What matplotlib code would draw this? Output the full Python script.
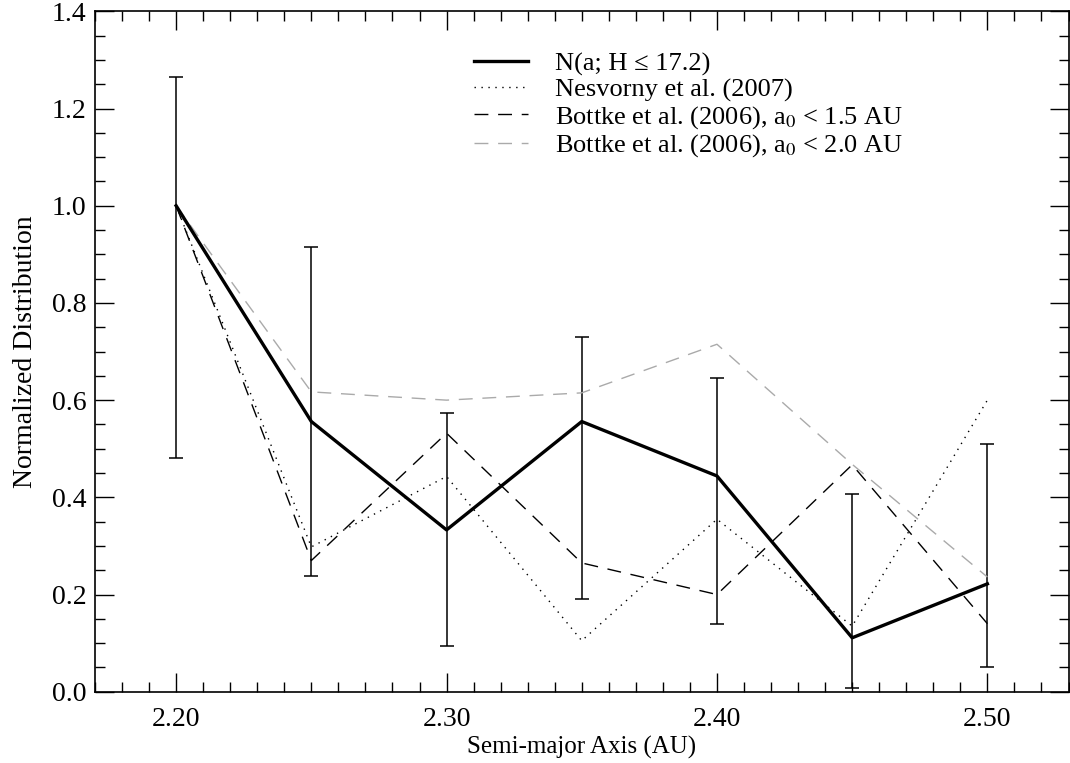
import matplotlib
matplotlib.use("Agg")
import matplotlib.pyplot as plt
from matplotlib.ticker import MultipleLocator

plt.rcParams['font.family'] = ['Liberation Serif', 'DejaVu Serif']
plt.rcParams['mathtext.fontset'] = 'stix'

# semieix major (AU)
a = [2.20, 2.25, 2.30, 2.35, 2.40, 2.45, 2.50]
# distribucio observada N(a; H <= 17.2) i les barres d'error
n_obs = [1.0, 0.556, 0.333, 0.556, 0.444, 0.111, 0.222]
err_hi = [1.265, 0.915, 0.574, 0.73, 0.645, 0.407, 0.51]
err_lo = [0.48, 0.239, 0.095, 0.19, 0.14, 0.008, 0.05]
# models
nesvorny = [1.0, 0.298, 0.443, 0.105, 0.355, 0.135, 0.60]
bottke15 = [1.0, 0.27, 0.532, 0.265, 0.20, 0.467, 0.14]
bottke20 = [1.0, 0.617, 0.600, 0.615, 0.715, 0.468, 0.236]

labels = ["N(a; H \u2264 17.2)", "Nesvorny et al. (2007)",
          r"Bottke et al. (2006), a$_0$ < 1.5 AU",
          r"Bottke et al. (2006), a$_0$ < 2.0 AU"]

fig = plt.figure(figsize=(10.7, 7.63), dpi=100)
ax = fig.add_axes([0.0888, 0.0934, 0.9098, 0.8917])

yerr = [[n - l for n, l in zip(n_obs, err_lo)], [h - n for n, h in zip(n_obs, err_hi)]]
ax.errorbar(a, n_obs, yerr=yerr, fmt='none', ecolor='black', elinewidth=1.1,
            capsize=5, capthick=1.1, zorder=2)

ax.plot(a, n_obs, color='black', lw=2.4, label=labels[0], zorder=4)
ax.plot(a, nesvorny, color='black', lw=1.0, ls=(0, (1, 4)), label=labels[1], zorder=3)
ax.plot(a, bottke15, color='black', lw=1.0, ls=(0, (10, 7)), label=labels[2], zorder=3)
ax.plot(a, bottke20, color='#aaaaaa', lw=1.0, ls=(0, (10, 7)), label=labels[3], zorder=3)

ax.set_xlim(2.17, 2.53)
ax.set_ylim(0.0, 1.4)
ax.set_xticks([2.20, 2.30, 2.40, 2.50])
ax.set_xticklabels(["2.20", "2.30", "2.40", "2.50"])
ax.xaxis.set_minor_locator(MultipleLocator(0.01))
ax.yaxis.set_major_locator(MultipleLocator(0.2))
ax.yaxis.set_minor_locator(MultipleLocator(0.05))
ax.yaxis.set_major_formatter(plt.FormatStrFormatter('%.1f'))

ax.tick_params(which='both', direction='in', top=True, right=True, width=1.0)
ax.tick_params(which='major', length=14, labelsize=20)
ax.tick_params(which='minor', length=7)
ax.tick_params(axis='x', pad=11)
ax.tick_params(axis='y', pad=6)
for s in ax.spines.values():
    s.set_linewidth(1.2)

ax.set_xlabel("Semi-major Axis (AU)", fontsize=18, labelpad=3)
ax.set_ylabel("Normalized Distribution", fontsize=20, labelpad=10)

ax.legend(loc='upper left', bbox_to_anchor=(0.389, 0.94), frameon=False,
          fontsize=19, handlelength=2.05, handletextpad=1.02, labelspacing=0.07,
          borderpad=0, borderaxespad=0)

fig.savefig("out.png", dpi=100)
